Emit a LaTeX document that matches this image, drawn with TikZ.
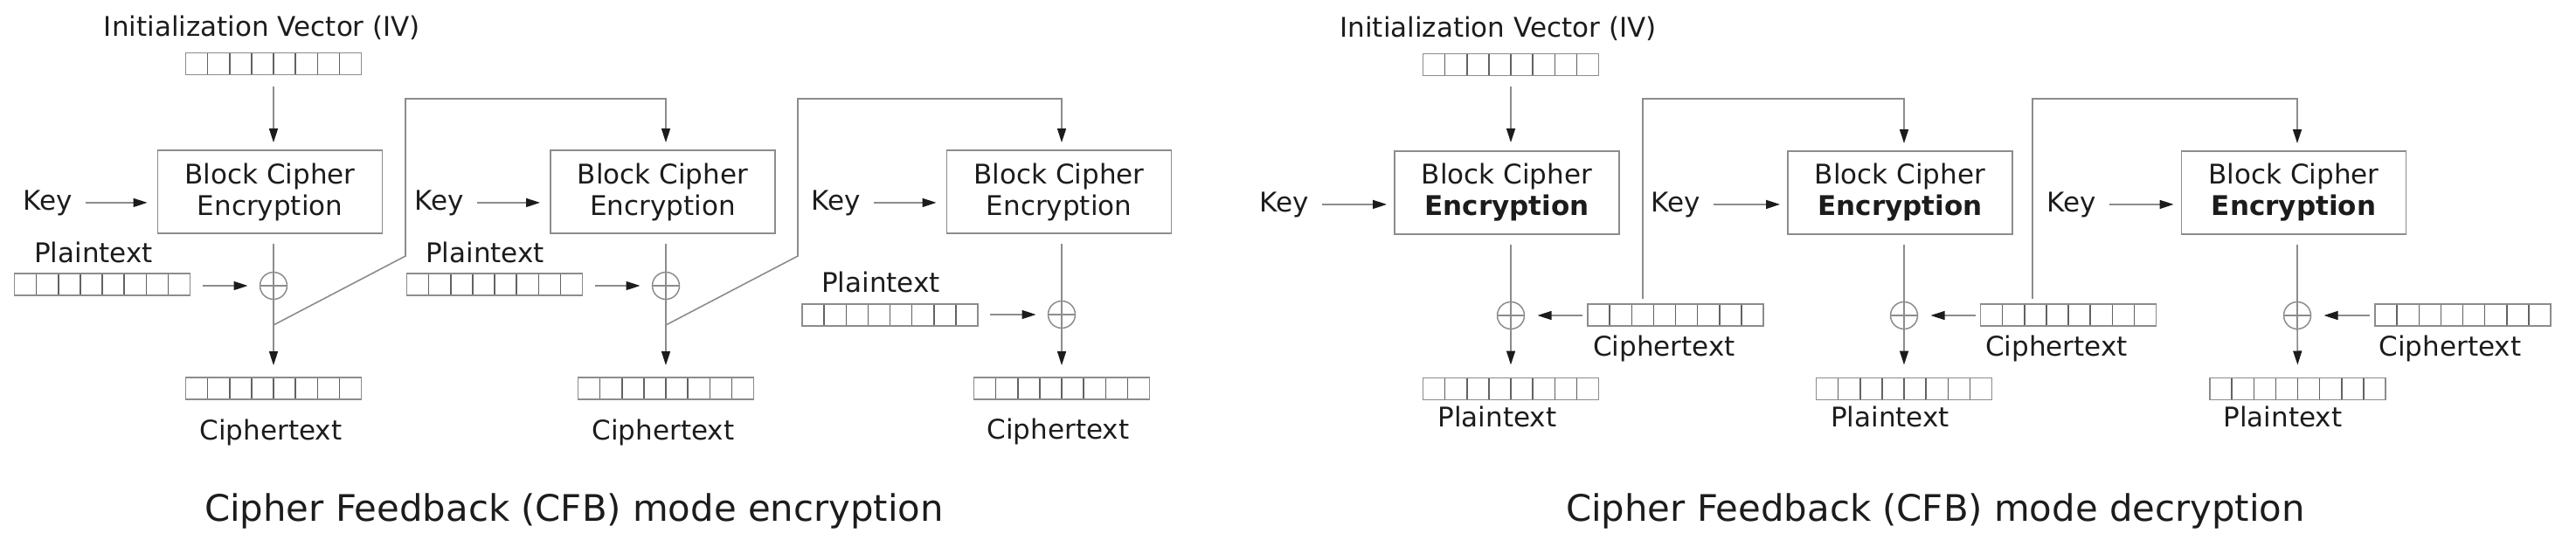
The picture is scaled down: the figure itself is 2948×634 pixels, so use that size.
\documentclass[tikz,border=0pt]{standalone}
\usepackage{fontspec}
\setmainfont{DejaVu Sans}
\usetikzlibrary{arrows.meta,calc}
\definecolor{lg}{HTML}{8C8C8C}
\definecolor{dg}{HTML}{626262}
\definecolor{tx}{HTML}{1C1C1C}
\begin{document}
\begin{tikzpicture}[x=1pt,y=-1pt,
  ln/.style={draw=lg, line width=1.6pt},
  arr/.style={ln, -{Triangle[length=16pt,width=10pt,color=tx]}},
  lbl/.style={inner sep=0pt, outer sep=0pt, anchor=base, font=\fontsize{31}{36}\selectfont, text=tx},
  ttl/.style={inner sep=0pt, outer sep=0pt, anchor=base, font=\fontsize{41.8}{48}\selectfont, text=tx},
  box/.style={draw=lg, line width=1.6pt, minimum width=257pt, minimum height=95pt, inner sep=0pt, outer sep=0pt, align=center, font=\fontsize{31}{36}\selectfont, text=tx},
  reg/.style={draw=lg, line width=1.6pt, minimum width=201pt, minimum height=25pt, inner sep=0pt, outer sep=0pt,
    path picture={\foreach \k in {1,...,7}{\draw[dg,line width=1.5pt] ([xshift=\k*25.125pt]path picture bounding box.south west) -- ([xshift=\k*25.125pt]path picture bounding box.north west);}}},
  xor/.style={circle, draw=lg, line width=1.5pt, minimum size=31pt, inner sep=0pt, outer sep=0pt,
    path picture={\draw[lg,line width=1.5pt] (path picture bounding box.north) -- (path picture bounding box.south);
                  \draw[lg,line width=1.5pt] (path picture bounding box.west) -- (path picture bounding box.east);}}
]
\useasboundingbox (0,0) rectangle (2948,634);

% ================= ENCRYPTION =================
\node[lbl] (ivlabE) at (300,42) {Initialization Vector (IV)};
\node[reg] (ivE) at (313,73) {};
\node[box] (e1) at (309,219.5) {Block Cipher\\Encryption};
\node[box] (e2) at (758.5,219.5) {Block Cipher\\Encryption};
\node[box] (e3) at (1212,219.5) {Block Cipher\\Encryption};
\node[lbl] (k1) at (54.5,240) {Key};
\node[lbl] (k2) at (503,240) {Key};
\node[lbl] (k3) at (956.5,240) {Key};
\node[xor] (x1) at (313,327) {};
\node[xor] (x2) at (762,327) {};
\node[xor] (x3) at (1215,360) {};
\node[lbl] (pl1) at (107,300) {Plaintext};
\node[lbl] (pl2) at (555,300) {Plaintext};
\node[lbl] (pl3) at (1008,334) {Plaintext};
\node[reg] (p1) at (117,325.5) {};
\node[reg] (p2) at (566,325.5) {};
\node[reg] (p3) at (1018.5,360.5) {};
\node[reg] (c1) at (313,444.5) {};
\node[reg] (c2) at (762,444.5) {};
\node[reg] (c3) at (1215,444.5) {};
\node[lbl] (cl1) at (310,503) {Ciphertext};
\node[lbl] (cl2) at (759,503) {Ciphertext};
\node[lbl] (cl3) at (1211,502) {Ciphertext};
\coordinate (j1) at (313,372);
\coordinate (j2) at (762,372);

\draw[arr, shorten <=13pt, shorten >=9pt] (ivE.south) -- (ivE.south |- e1.north);
\foreach \k/\b/\x/\p/\c in {k1/e1/x1/p1/c1, k2/e2/x2/p2/c2, k3/e3/x3/p3/c3}{
  \draw[arr, shorten <=15pt, shorten >=12pt] (\k.east) -- (\k.east -| \b.west);
  \draw[ln, shorten <=12pt] (\x |- \b.south) -- (\x.north);
  \draw[arr, shorten <=14pt, shorten >=14pt] (\x.west -| \p.east) -- (\x.west);
  \draw[arr, shorten >=14pt] (\x.south) -- (\c.north);
}
\draw[arr, shorten >=9pt] (j1) -- ++(151,-79) -- ++(0,-180) -| (x2 |- e2.north);
\draw[arr, shorten >=9pt] (j2) -- ++(151,-79) -- ++(0,-180) -| (x3 |- e3.north);

\node[ttl] (tE) at (657,596) {Cipher Feedback (CFB) mode encryption};

% ================= DECRYPTION =================
\node[lbl] (ivlabD) at (1714.5,43) {Initialization Vector (IV)};
\node[reg] (ivD) at (1729,74) {};
\node[box] (d1) at (1724.5,220.5) {Block Cipher\\\textbf{Encryption}};
\node[box] (d2) at (2174.5,220.5) {Block Cipher\\\textbf{Encryption}};
\node[box] (d3) at (2625,220.5) {Block Cipher\\\textbf{Encryption}};
\node[lbl] (kd1) at (1470,242) {Key};
\node[lbl] (kd2) at (1918,242) {Key};
\node[lbl] (kd3) at (2370.5,242) {Key};
\node[xor] (y1) at (1729,361) {};
\node[xor] (y2) at (2179,361) {};
\node[xor] (y3) at (2629,361) {};
\node[reg] (cd1) at (1917.5,360.5) {};
\node[reg] (cd2) at (2367,360.5) {};
\node[reg] (cd3) at (2818.5,360.5) {};
\node[lbl] (cdl1) at (1904.5,407) {Ciphertext};
\node[lbl] (cdl2) at (2353.5,407) {Ciphertext};
\node[lbl] (cdl3) at (2804,407) {Ciphertext};
\node[reg] (pd1) at (1729,445) {};
\node[reg] (pd2) at (2179,445) {};
\node[reg] (pd3) at (2629.5,445) {};
\node[lbl] (pdl1) at (1713.5,488) {Plaintext};
\node[lbl] (pdl2) at (2163,488) {Plaintext};
\node[lbl] (pdl3) at (2612.5,488) {Plaintext};
\coordinate (f1) at (1880,348);
\coordinate (f2) at (2326,348);

\draw[arr, shorten <=12pt, shorten >=10pt] (ivD.south) -- (ivD.south |- d1.north);
\foreach \k/\b/\y/\c/\p in {kd1/d1/y1/cd1/pd1, kd2/d2/y2/cd2/pd2, kd3/d3/y3/cd3/pd3}{
  \draw[arr, shorten <=15pt, shorten >=9pt] (\k.east) -- (\k.east -| \b.west);
  \draw[ln, shorten <=12pt] (\y |- \b.south) -- (\y.north);
  \draw[arr, shorten <=6pt, shorten >=15pt] (\y.east -| \c.west) -- (\y.east);
  \draw[arr, shorten >=15pt] (\y.south) -- (\p.north);
}
\draw[arr, shorten <=6pt, shorten >=9pt] (f1) -- ++(0,-235) -| (y2 |- d2.north);
\draw[arr, shorten <=6pt, shorten >=9pt] (f2) -- ++(0,-235) -| (y3 |- d3.north);

\node[ttl] (tD) at (2215,596) {Cipher Feedback (CFB) mode decryption};
\end{tikzpicture}
\end{document}
